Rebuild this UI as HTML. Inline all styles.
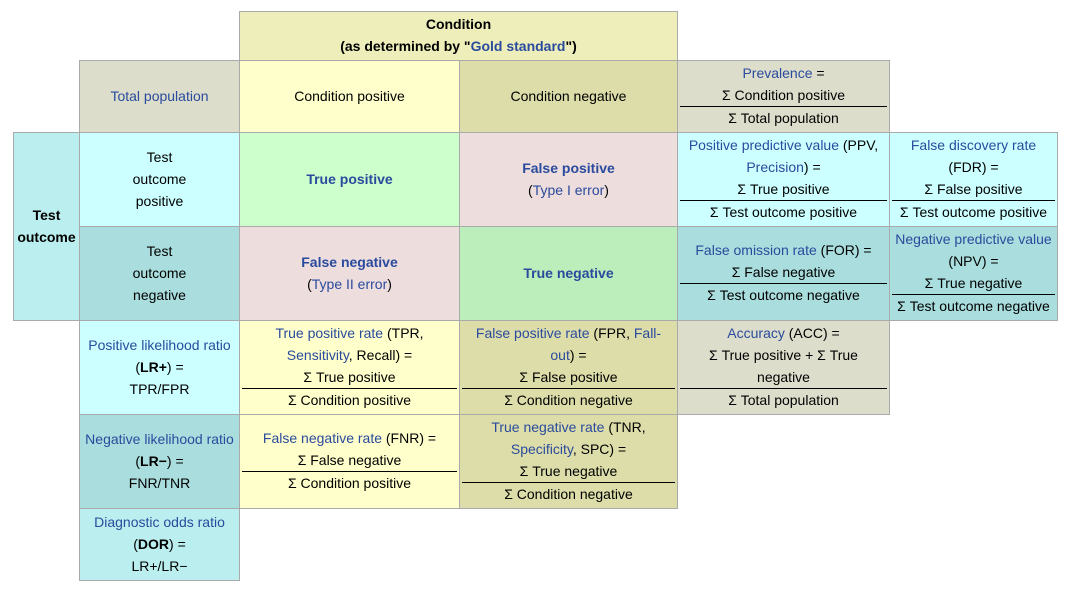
<!DOCTYPE html>
<html><head><meta charset="utf-8"><style>
body{margin:0;width:1067px;height:596px;background:#fff;position:relative;font-family:"Liberation Sans",Arial,sans-serif;font-size:14px;color:#000;overflow:hidden}
.c{position:absolute;box-sizing:border-box;border:1px solid #aaa;display:flex;flex-direction:column;justify-content:center;align-items:stretch;text-align:center;line-height:22px;padding-bottom:2px}
.c>div{padding:0 2px}
a{color:#2a4b9d;text-decoration:none}
b{font-weight:bold}
.f{border-top:1px solid #000;margin:0 2px}
</style></head><body>
<div class="c" style="left:239px;top:11px;width:439px;height:50px;background:#eeeebb"><div><b>Condition</b></div><div><b>(as determined by "<a>Gold standard</a>")</b></div></div>

<div class="c" style="left:79px;top:60px;width:161px;height:73px;background:#ddddcc"><div><a>Total population</a></div></div>
<div class="c" style="left:239px;top:60px;width:221px;height:73px;background:#ffffcc"><div>Condition positive</div></div>
<div class="c" style="left:459px;top:60px;width:219px;height:73px;background:#ddddaa"><div>Condition negative</div></div>
<div class="c" style="left:677px;top:60px;width:213px;height:73px;background:#ddddcc"><div><a>Prevalence</a> =</div><div>Σ Condition positive</div><div class="f">Σ Total population</div></div>

<div class="c" style="left:13px;top:132px;width:67px;height:189px;background:#bbeeee"><div><b>Test outcome</b></div></div>
<div class="c" style="left:79px;top:132px;width:161px;height:95px;background:#ccffff"><div>Test<br>outcome<br>positive</div></div>
<div class="c" style="left:239px;top:132px;width:221px;height:95px;background:#ccffcc"><div><b><a>True positive</a></b></div></div>
<div class="c" style="left:459px;top:132px;width:219px;height:95px;background:#eedddd"><div><b><a>False positive</a></b></div><div>(<a>Type I error</a>)</div></div>
<div class="c" style="left:677px;top:132px;width:213px;height:95px;background:#ccffff"><div><a>Positive predictive value</a> (PPV,<br><a>Precision</a>) =</div><div>Σ True positive</div><div class="f">Σ Test outcome positive</div></div>
<div class="c" style="left:889px;top:132px;width:169px;height:95px;background:#ccffff"><div><a>False discovery rate</a><br>(FDR) =</div><div>Σ False positive</div><div class="f">Σ Test outcome positive</div></div>

<div class="c" style="left:79px;top:226px;width:161px;height:95px;background:#aadddd"><div>Test<br>outcome<br>negative</div></div>
<div class="c" style="left:239px;top:226px;width:221px;height:95px;background:#eedddd"><div><b><a>False negative</a></b></div><div>(<a>Type II error</a>)</div></div>
<div class="c" style="left:459px;top:226px;width:219px;height:95px;background:#bbeebb"><div><b><a>True negative</a></b></div></div>
<div class="c" style="left:677px;top:226px;width:213px;height:95px;background:#aadddd"><div><a>False omission rate</a> (FOR) =</div><div>Σ False negative</div><div class="f">Σ Test outcome negative</div></div>
<div class="c" style="left:889px;top:226px;width:169px;height:95px;background:#aadddd"><div><a>Negative predictive value</a><br>(NPV) =</div><div>Σ True negative</div><div class="f">Σ Test outcome negative</div></div>

<div class="c" style="left:79px;top:320px;width:161px;height:95px;background:#ccffff"><div><a>Positive likelihood ratio</a><br>(<b>LR+</b>) =<br>TPR/FPR</div></div>
<div class="c" style="left:239px;top:320px;width:221px;height:95px;background:#ffffcc"><div><a>True positive rate</a> (TPR,<br><a>Sensitivity</a>, Recall) =</div><div>Σ True positive</div><div class="f">Σ Condition positive</div></div>
<div class="c" style="left:459px;top:320px;width:219px;height:95px;background:#ddddaa"><div><a>False positive rate</a> (FPR, <a>Fall-</a><br><a>out</a>) =</div><div>Σ False positive</div><div class="f">Σ Condition negative</div></div>
<div class="c" style="left:677px;top:320px;width:213px;height:95px;background:#ddddcc"><div><a>Accuracy</a> (ACC) =</div><div>Σ True positive + Σ True<br>negative</div><div class="f">Σ Total population</div></div>

<div class="c" style="left:79px;top:414px;width:161px;height:95px;background:#aadddd"><div><a>Negative likelihood ratio</a><br>(<b>LR−</b>) =<br>FNR/TNR</div></div>
<div class="c" style="left:239px;top:414px;width:221px;height:95px;background:#ffffcc"><div><a>False negative rate</a> (FNR) =</div><div>Σ False negative</div><div class="f">Σ Condition positive</div></div>
<div class="c" style="left:459px;top:414px;width:219px;height:95px;background:#ddddaa"><div><a>True negative rate</a> (TNR,<br><a>Specificity</a>, SPC) =</div><div>Σ True negative</div><div class="f">Σ Condition negative</div></div>

<div class="c" style="left:79px;top:508px;width:161px;height:73px;background:#bbeeee"><div><a>Diagnostic odds ratio</a><br>(<b>DOR</b>) =<br>LR+/LR−</div></div>
</body></html>
